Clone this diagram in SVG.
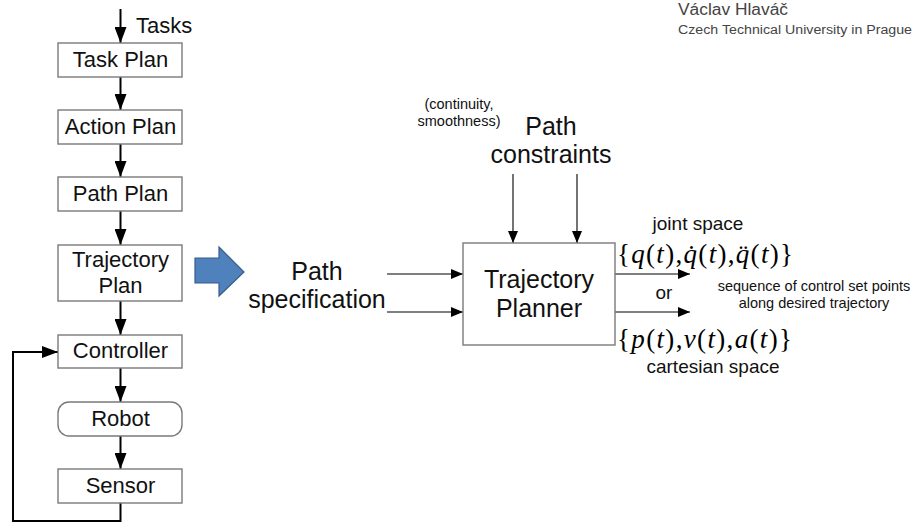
<svg xmlns="http://www.w3.org/2000/svg" width="915" height="525" viewBox="0 0 915 525">
<defs>
<style>
.box{fill:#fff;stroke:#7a7a7a;stroke-width:1.4}
.t{font-family:"Liberation Sans",Arial,sans-serif;fill:#111;text-anchor:middle}
.l22{font-size:22px}
.l25{font-size:25px}
.s{font-size:14.5px}
.m{font-size:19px}
.thick{stroke:#000;stroke-width:2;fill:none}
.thin{stroke:#000;stroke-width:1.1;fill:none}
.math{font-family:"Liberation Serif","Times New Roman",serif;font-size:27px;fill:#000}
.hdr{font-family:"Liberation Sans",Arial,sans-serif;fill:#444}
</style>
<marker id="ah" viewBox="0 0 16 12" markerWidth="16" markerHeight="12" refX="16" refY="6" orient="auto" markerUnits="userSpaceOnUse"><path d="M0,0 L16,6 L0,12 Z" fill="#000"/></marker>
<marker id="as" viewBox="0 0 12 10" markerWidth="12" markerHeight="10" refX="12" refY="5" orient="auto" markerUnits="userSpaceOnUse"><path d="M0,0 L12,5 L0,10 Z" fill="#000"/></marker>
</defs>

<g id="header">
<text class="hdr" x="678" y="15" font-size="16" textLength="110" lengthAdjust="spacingAndGlyphs">Václav Hlaváč</text>
<text class="hdr" x="678" y="34" font-size="12" textLength="234" lengthAdjust="spacingAndGlyphs">Czech Technical University in Prague</text>
</g>

<g id="connectors">
<line class="thick" x1="120.5" y1="9" x2="120.5" y2="43" marker-end="url(#ah)"/>
<line class="thick" x1="120.5" y1="77" x2="120.5" y2="110" marker-end="url(#ah)"/>
<line class="thick" x1="120.5" y1="144" x2="120.5" y2="177" marker-end="url(#ah)"/>
<line class="thick" x1="120.5" y1="211" x2="120.5" y2="245" marker-end="url(#ah)"/>
<line class="thick" x1="120.5" y1="301" x2="120.5" y2="335" marker-end="url(#ah)"/>
<line class="thick" x1="120.5" y1="368" x2="120.5" y2="402" marker-end="url(#ah)"/>
<line class="thick" x1="120.5" y1="436" x2="120.5" y2="469" marker-end="url(#ah)"/>
<polyline class="thick" points="120.5,503 120.5,521 13,521 13,352 58,352" marker-end="url(#ah)"/>
<line class="thin" x1="513" y1="174" x2="513" y2="243" marker-end="url(#as)"/>
<line class="thin" x1="577" y1="174" x2="577" y2="243" marker-end="url(#as)"/>
<line class="thin" x1="387" y1="274" x2="463" y2="274" marker-end="url(#as)"/>
<line class="thin" x1="387" y1="312" x2="463" y2="312" marker-end="url(#as)"/>
<line class="thin" x1="615" y1="274" x2="690" y2="274" marker-end="url(#as)"/>
<line class="thin" x1="615" y1="312" x2="690" y2="312" marker-end="url(#as)"/>
</g>

<text class="t l22" x="136" y="33" text-anchor="start" style="text-anchor:start">Tasks</text>

<g id="task-plan"><rect class="box" x="58" y="43" width="124" height="34"/><text class="t l22" x="120.5" y="67">Task Plan</text></g>
<g id="action-plan"><rect class="box" x="58" y="110" width="124" height="34"/><text class="t l22" x="120.5" y="134">Action Plan</text></g>
<g id="path-plan"><rect class="box" x="58" y="177" width="124" height="34"/><text class="t l22" x="120.5" y="201">Path Plan</text></g>
<g id="trajectory-plan"><rect class="box" x="58" y="245" width="124" height="56"/><text class="t l22" x="120.5" y="267">Trajectory</text><text class="t l22" x="120.5" y="293">Plan</text></g>
<g id="controller"><rect class="box" x="58" y="335" width="124" height="33"/><text class="t l22" x="120.5" y="358">Controller</text></g>
<g id="robot"><rect class="box" x="58" y="402" width="124" height="34" rx="11" ry="11"/><text class="t l22" x="120.5" y="426">Robot</text></g>
<g id="sensor"><rect class="box" x="58" y="469" width="124" height="34"/><text class="t l22" x="120.5" y="493">Sensor</text></g>

<g id="big-arrow"><polygon points="195,258 219,258 219,247 244,272 219,296 219,283 195,283" fill="#4F81BD" stroke="#385D8A" stroke-width="1.2"/></g>

<g id="path-spec"><text class="t l25" x="317" y="280">Path</text><text class="t l25" x="317" y="308">specification</text></g>

<g id="constraints">
<text class="t s" x="459" y="109">(continuity,</text>
<text class="t s" x="459" y="126">smoothness)</text>
<text class="t l25" x="551" y="135">Path</text>
<text class="t l25" x="551" y="163">constraints</text>
</g>

<g id="trajectory-planner"><rect class="box" x="463" y="243" width="152" height="102"/><text class="t l25" x="539" y="288">Trajectory</text><text class="t l25" x="539" y="317">Planner</text></g>

<g id="outputs">
<text class="t m" x="698" y="230">joint space</text>
<text class="math" x="617" y="263" textLength="176" lengthAdjust="spacing">{<tspan font-style="italic">q</tspan>(<tspan font-style="italic">t</tspan>),<tspan font-style="italic">q̇</tspan>(<tspan font-style="italic">t</tspan>),<tspan font-style="italic">q̈</tspan>(<tspan font-style="italic">t</tspan>)}</text>
<text class="t m" x="664" y="299">or</text>
<text class="t s" x="814" y="291">sequence of control set points</text>
<text class="t s" x="814" y="308">along desired trajectory</text>
<text class="math" x="617" y="348" textLength="175" lengthAdjust="spacing">{<tspan font-style="italic">p</tspan>(<tspan font-style="italic">t</tspan>),<tspan font-style="italic">v</tspan>(<tspan font-style="italic">t</tspan>),<tspan font-style="italic">a</tspan>(<tspan font-style="italic">t</tspan>)}</text>
<text class="t m" x="713" y="373">cartesian space</text>
</g>
</svg>
